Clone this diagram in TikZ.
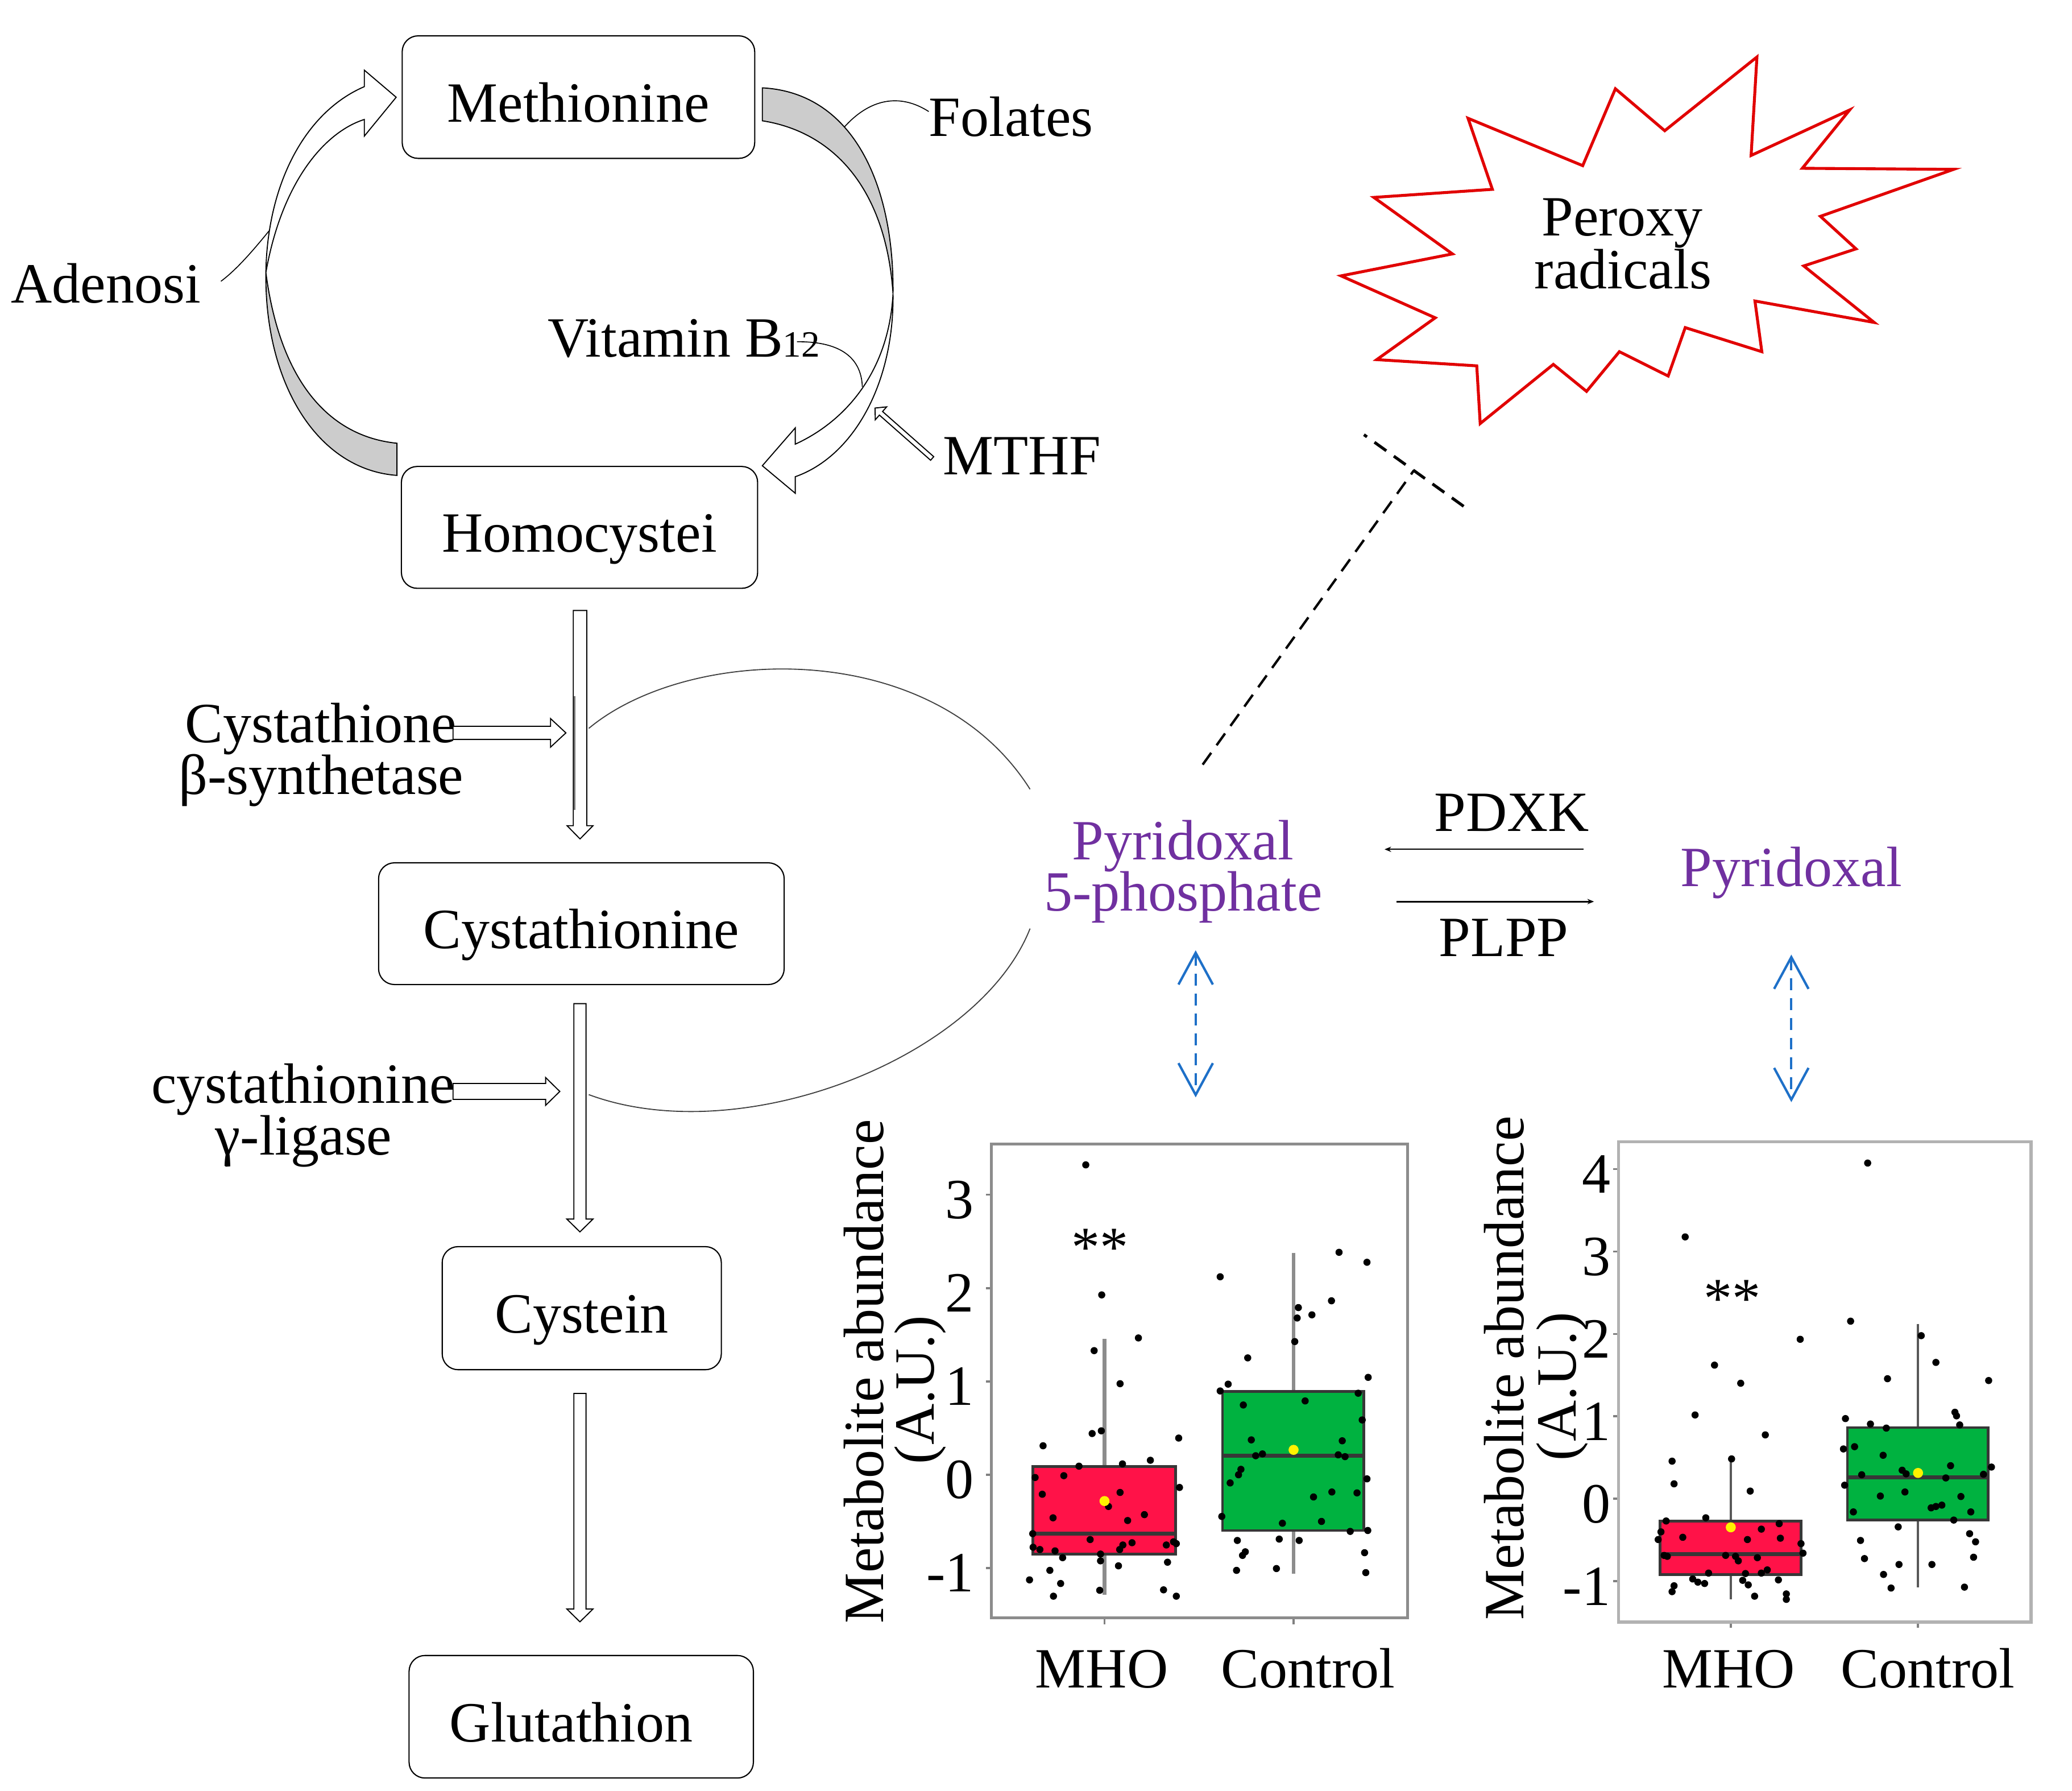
\documentclass[tikz,border=0pt]{standalone}
\usepackage{fontspec}
\setmainfont{Liberation Serif}
\usetikzlibrary{calc,arrows.meta}
\definecolor{plpurple}{RGB}{112,48,160}
\definecolor{arrowblue}{RGB}{30,112,200}
\definecolor{starred}{RGB}{225,0,0}
\definecolor{mhored}{RGB}{255,18,72}
\definecolor{ctrlgreen}{RGB}{0,178,64}
\definecolor{bandgray}{RGB}{204,204,204}
\definecolor{boxedge}{RGB}{55,55,55}
\newcommand{\bigtxt}{\fontsize{43}{39.5}\selectfont}
\newcommand{\subtxt}{\fontsize{28}{28}\selectfont}
% hollow block arrow: from #1 to #2, half shaft width #3, half head width #4, head length #5
\newcommand{\hollowarr}[5]{%
  \coordinate (hb) at ($(#2)!#5!(#1)$);
  \draw[hollow] ($(#1)!#3!90:(#2)$) -- ($(hb)!#3!90:(#2)$) -- ($(hb)!#4!90:(#2)$) -- (#2)
     -- ($(hb)!#4!-90:(#2)$) -- ($(hb)!#3!-90:(#2)$) -- ($(#1)!#3!-90:(#2)$) -- cycle;}
\begin{document}
\begin{tikzpicture}[x=1pt,y=-1pt,
  txt/.style={font=\bigtxt, inner sep=0pt},
  box/.style={draw=black, line width=0.9pt, rounded corners=12pt, inner sep=0pt,
              font=\bigtxt, text height=37.5pt, text depth=0pt},
  hollow/.style={draw=black, line width=0.8pt, fill=white, line join=miter},
  band/.style={draw=black, line width=0.8pt, fill=bandgray},
  thinlink/.style={draw=black, line width=0.7pt},
  cofactor/.style={draw=black!75, line width=0.8pt},
  inhib/.style={draw=black, line width=1.8pt, dash pattern=on 11pt off 7pt},
  blue2/.style={draw=arrowblue, line width=1.8pt, dash pattern=on 9pt off 6pt,
     {Straight Barb[length=24pt,width=26pt]}-{Straight Barb[length=24pt,width=26pt]}},
  star/.style={draw=starred, line width=2.2pt, line join=miter},
  frameA/.style={draw=black!45, line width=2.3pt},
  frameB/.style={draw=black!30, line width=2.3pt},
  tick/.style={draw=black!50, line width=1.5pt},
  dot/.style={fill=black},
  meanpt/.style={fill=yellow}
]
\useasboundingbox (0,0) rectangle (1566.4,1353.6);

% ---------------- pathway boxes ----------------
\node[box, minimum width=266.5pt, minimum height=92.6pt] (met)   at (437.3,73.4)  {Methionine};
\node[box, minimum width=269.3pt, minimum height=92.1pt] (homo)  at (438.1,398.6) {Homocystei};
\node[box, minimum width=306.6pt, minimum height=92pt]   (cysta) at (439.5,698.1) {Cystathionine};
\node[box, minimum width=211pt,   minimum height=93pt]   (cys)   at (439.8,988.7) {Cystein};
\node[box, minimum width=260.3pt, minimum height=92.6pt] (glu)   at (439.4,1297.5) {Glutathion\hspace*{15pt}};

% ---------------- cycle (left side) ----------------
\coordinate (ltip) at ($(met.west)+(-4.1,0.1)$);
\draw[band] (201,206) .. controls (200,290) and (240,355) .. (300.1,359.3)
   -- (300.1,335) .. controls (250,330) and (212,290) .. (201,206) -- cycle;
\draw[hollow] (201,206) .. controls (202,140) and (230,85) .. (275.4,65.5)
   -- (275.4,53) -- (ltip) -- (275.4,102.9) -- (275.4,90.3)
   .. controls (245,100) and (213,138) .. (201,206) -- cycle;

% ---------------- cycle (right side) ----------------
\coordinate (rtip) at ($(homo.north east)+(3.1,-0.1)$);
\draw[band] (576.3,66.4) .. controls (645,70) and (676,140) .. (675.1,222)
   .. controls (670,145) and (632,100) .. (576.3,91.3) -- cycle;
\draw[hollow] (675.1,222) .. controls (676,290) and (645,345) .. (601.2,360.3)
   -- (601.2,372.8) -- (rtip) -- (601.2,323.4) -- (601.2,335.7)
   .. controls (640,318) and (672,280) .. (675.1,222) -- cycle;

% ---------------- cofactor labels ----------------
\node[txt, anchor=base west] (fol) at (702.1,102.9) {Folates};
\node[txt, anchor=base west] (ado) at (8.2,229.1) {Adenosi};
\node[txt, anchor=base west] (b12) at (413.9,269.6) {Vitamin B{\subtxt 12}};
\node[txt, anchor=base west] (mthf) at (712.8,358.9) {MTHF};

\coordinate (folE) at (638.3,96);
\draw[thinlink] (fol.west |- 0,84.3) .. controls (683,72) and (660,72) .. (folE);
\coordinate (adoS) at (167,212.6);
\coordinate (adoE) at (203.4,174.5);
\draw[thinlink] (adoS) .. controls (180,203) and (194,186) .. (adoE);
\coordinate (b12S) at (602.5,258.3);
\coordinate (b12E) at (651.9,292.3);
\draw[thinlink] (b12S) .. controls (632,258) and (651,268) .. (b12E);

\coordinate (mthfA) at (704.7,346.5);
\coordinate (mthfB) at (661.5,308.4);
\hollowarr{mthfA}{mthfB}{1.8pt}{6.5pt}{6pt}

% ---------------- transsulfuration arrows ----------------
\coordinate (a1s) at ($(homo.south)+(0.4,16.3)$);
\coordinate (a1e) at ($(a1s |- cysta.north)+(0,-17.6)$);
\hollowarr{a1s}{a1e}{5.1pt}{9.8pt}{10pt}
\draw[black!55, line width=1.3pt] (434.4,526.3) -- (434.4,612.3);

\coordinate (a2s) at ($(cysta.south)+(-1.1,14)$);
\coordinate (a2e) at ($(a2s |- cys.north)+(0,-10.7)$);
\hollowarr{a2s}{a2e}{4.6pt}{9.9pt}{9.7pt}

\coordinate (a3s) at ($(cys.south)+(-1.4,17.5)$);
\coordinate (a3e) at ($(a3s |- glu.north)+(0,-25)$);
\hollowarr{a3s}{a3e}{4.6pt}{9.9pt}{9.7pt}

% enzymes
\node[txt, anchor=base] (cbs1) at (242.6,561.0) {Cystathione};
\node[txt, anchor=base] (cbs2) at (242.8,600.2) {β-synthetase};
\node[txt, anchor=base] (cgl1) at (229.2,833.5) {cystathionine};
\node[txt, anchor=base] (cgl2) at (229.5,872.8) {γ-ligase};

\coordinate (cbsA) at (342.5,553.9);
\coordinate (cbsB) at (427.8,553.9);
\hollowarr{cbsA}{cbsB}{4.95pt}{10.8pt}{11.6pt}
\coordinate (cglA) at (342.5,824.9);
\coordinate (cglB) at (423.2,824.9);
\hollowarr{cglA}{cglB}{6pt}{10.5pt}{10.7pt}

% ---------------- PLP / pyridoxal ----------------
\node[txt, anchor=base, text=plpurple] (plp1) at (894.3,649.6) {Pyridoxal};
\node[txt, anchor=base, text=plpurple] (plp2) at (894.5,688.6) {5-phosphate};
\node[txt, anchor=base, text=plpurple] (pl)   at (1354.2,670) {Pyridoxal};
\node[txt, anchor=base] (pdxk) at (1143,628.3) {PDXK};
\node[txt, anchor=base] (plpp) at (1136.8,722.6) {PLPP};

\coordinate (pdxkR) at (1197,641.9);
\coordinate (pdxkL) at (1046.7,641.9);
\draw[black, line width=0.8pt, -{Stealth[length=5pt,width=4pt]}] (pdxkR) -- (pdxkL);
\coordinate (plppL) at (1055.8,681.4);
\coordinate (plppR) at (1205,681.4);
\draw[black, line width=1.2pt, -{Stealth[length=5pt,width=4pt]}] (plppL) -- (plppR);

% cofactor arcs from enzyme arrows to PLP
\coordinate (arcU1) at ($(a1s |- cbsB)+(6.6,-3.4)$);
\coordinate (arcU2) at (778.7,596.5);
\draw[cofactor] (arcU1) .. controls (520,488) and (705,480) .. (arcU2);
\coordinate (arcL1) at (778.7,701.8);
\coordinate (arcL2) at ($(a1s |- cglB)+(6.6,2.4)$);
\draw[cofactor] (arcL1) .. controls (740,800) and (560,870) .. (arcL2);

% ---------------- peroxy radicals ----------------
\draw[star] (1109.8,89.4) -- (1196.5,125.2) -- (1221.2,67.1) -- (1258.5,98.8)
  -- (1328.2,43.1) -- (1323.8,117.5) -- (1398.3,83.1) -- (1362.5,127.2)
  -- (1476.9,128) -- (1376.2,163.5) -- (1403.1,188.1) -- (1363.6,201)
  -- (1416.8,243.7) -- (1326.7,227.5) -- (1331.9,265.8) -- (1274,247.6)
  -- (1261.1,284.2) -- (1224.2,265.8) -- (1199.4,295.8) -- (1174.3,275.4)
  -- (1119,320.1) -- (1116.4,276.5) -- (1040.8,271.8) -- (1085,240.2)
  -- (1013.8,208.5) -- (1098,191.9) -- (1038.6,149.2) -- (1128.2,143.1) -- cycle;
\node[txt, anchor=base] (per1) at (1226.5,178.1) {Peroxy};
\node[txt, anchor=base] (per2) at (1227,218.1) {radicals};

\coordinate (inhS) at (909.2,577.9);
\coordinate (inhE) at (1068.8,355.6);
\draw[inhib] (inhS) -- (inhE);
\draw[inhib, line width=2.2pt] ($(inhE)!46.4pt!90:(inhS)$) -- ($(inhE)!46.4pt!-90:(inhS)$);

% ---------------- blue links to plots ----------------
\coordinate (bl1) at (903.9,718.2);
\coordinate (bl2) at (903.9,829.4);
\draw[blue2] (bl1) -- (bl2);
\coordinate (br1) at (1354.2,721.5);
\coordinate (br2) at (1354.2,833);
\draw[blue2] (br1) -- (br2);

% ---------------- left box plot (Pyridoxal 5-phosphate) ----------------
\begin{scope}[shift={(623.3,816.7)}, x=0.30155pt, y=-0.34242pt]
  \foreach \v/\l in {252/3, 458/2, 664/1, 870/0, 1076/-1} {
    \draw[tick] (405,\v) -- (418,\v);
    \node[txt, anchor=base east] at (375,\v+52.6) {\l};
  }
  \draw[tick] (702,1186) -- (702,1200);
  \draw[tick] (1176,1186) -- (1176,1200);
  \draw[draw=black!45, line width=3pt] (702,570) -- (702,1135);
  \draw[draw=black!45, line width=3pt] (1176,380) -- (1176,1088);
  \draw[fill=mhored, draw=boxedge, line width=2pt] (522,852) rectangle (880,1045);
  \draw[boxedge, line width=3pt] (522,1000) -- (880,1000);
  \draw[fill=ctrlgreen, draw=boxedge, line width=2pt] (998,686) rectangle (1352,993);
  \draw[boxedge, line width=3pt] (998,828) -- (1352,828);
  \draw[frameA] (418,140) rectangle (1462,1186);
  \foreach \x/\y in {655/186,695/473,676/596,787/568,741/669,671/779,694/773,548/806,888/789,817/838,747/846,638/851,528/876,600/872,890/898,546/913,741/909,712/940,573/965,760/971,802/958,522/1000,666/1013,523/1030,540/1035,578/1038,597/1053,692/1045,692/1060,740/1035,748/1025,771/1020,857/1025,875/1018,882/1022,514/1102,565/1081,592/1110,574/1138,737/1071,860/1063,690/1125,850/1124,882/1138}
    \fill[dot] (\x,\y) circle[radius=2.7pt];
  \foreach \x/\y in {992/433,1290/379,1360/401,1271/486,1188/501,1185/524,1222/517,1179/576,1061/612,1012/670,992/685,1363/655,1338/690,1050/716,1205/707,1348/749,1070/793,1298/795,1081/828,1098/824,1288/826,1305/830,1044/858,1038/870,1017/888,1360/879,1226/919,1272/908,1335/910,996/962,1148/977,1246/973,1318/995,1362/993,1035/1015,1140/1012,1190/1015,1055/1040,1048/1048,1033/1081,1133/1077,1354/1042,1357/1086}
    \fill[dot] (\x,\y) circle[radius=2.7pt];
  \fill[meanpt] (702,928) circle[radius=3.8pt];
  \fill[meanpt] (1176,815) circle[radius=3.8pt];
\end{scope}
\node[txt, anchor=base] (star1) at (831.7,957) {**};
\node[txt, anchor=base, rotate=90] (yl1) at (667.9,1036.7) {Metabolite abundance};
\node[txt, anchor=base, rotate=90] (yl1b) at (706.2,1050.4) {(A.U.)};
\node[txt, anchor=base] (x1a) at (832.9,1275.6) {MHO};
\node[txt, anchor=base] (x1b) at (989,1275.6) {Control};

% ---------------- right box plot (Pyridoxal) ----------------
\begin{scope}[shift={(1096.1,816.7)}, x=0.29991pt, y=-0.34242pt]
  \foreach \v/\l in {195/4, 377/3, 559/2, 741/1, 923/0, 1105/-1} {
    \draw[tick] (412,\v) -- (425,\v);
    \node[txt, anchor=base east] at (405,\v+52.6) {\l};
  }
  \draw[tick] (708,1195) -- (708,1208);
  \draw[tick] (1180,1195) -- (1180,1208);
  \draw[draw=black!65, line width=1.8pt] (708,830) -- (708,1145);
  \draw[draw=black!65, line width=1.8pt] (1180,537) -- (1180,1118);
  \draw[fill=mhored, draw=boxedge, line width=2pt] (530,972) rectangle (885,1090);
  \draw[boxedge, line width=3pt] (530,1045) -- (885,1045);
  \draw[fill=ctrlgreen, draw=boxedge, line width=2pt] (1002,766) rectangle (1357,970);
  \draw[boxedge, line width=3pt] (1002,876) -- (1357,876);
  \draw[frameB] (425,135) rectangle (1465,1195);
  \foreach \x/\y in {593/345,883/571,667/628,733/668,618/738,795/782,710/835,560/840,565/890,757/906,645/965,545/972,830/978,785/990,587/1008,750/1013,833/1010,525/1013,532/996,885/1022,890/1043,540/1048,548/1050,695/1048,720/1050,727/1060,775/1053,652/1087,745/1088,785/1087,800/1080,612/1100,625/1107,642/1110,738/1103,752/1113,828/1102,565/1115,560/1128,768/1138,848/1133,848/1145}
    \fill[dot] (\x,\y) circle[radius=2.7pt];
  \foreach \x/\y in {1053/182,1010/531,1188/563,1225/622,1103/658,1358/662,997/746,1060/758,1100/767,1273/732,1277/740,1285/760,992/813,1020/808,1092/827,1038/870,1140/860,1150/868,1262/850,1250/877,1345/869,1365/853,995/893,1085/917,1147/908,1288/918,1017/952,1213/943,1225/940,1240/937,1313/952,1130/985,1270/970,1035/1015,1045/1055,1132/1068,1215/1068,1310/1000,1325/1018,1320/1052,1093/1090,1112/1120,1297/1118}
    \fill[dot] (\x,\y) circle[radius=2.7pt];
  \fill[meanpt] (708,986) circle[radius=3.8pt];
  \fill[meanpt] (1180,866) circle[radius=3.8pt];
\end{scope}
\node[txt, anchor=base] (star2) at (1309.4,995.8) {**};
\node[txt, anchor=base, rotate=90] (yl2) at (1151.6,1034.1) {Metabolite abundance};
\node[txt, anchor=base, rotate=90] (yl2b) at (1191.5,1047.8) {(A.U.)};
\node[txt, anchor=base] (x2a) at (1306.7,1275.5) {MHO};
\node[txt, anchor=base] (x2b) at (1457.5,1275.5) {Control};
\end{tikzpicture}
\end{document}
